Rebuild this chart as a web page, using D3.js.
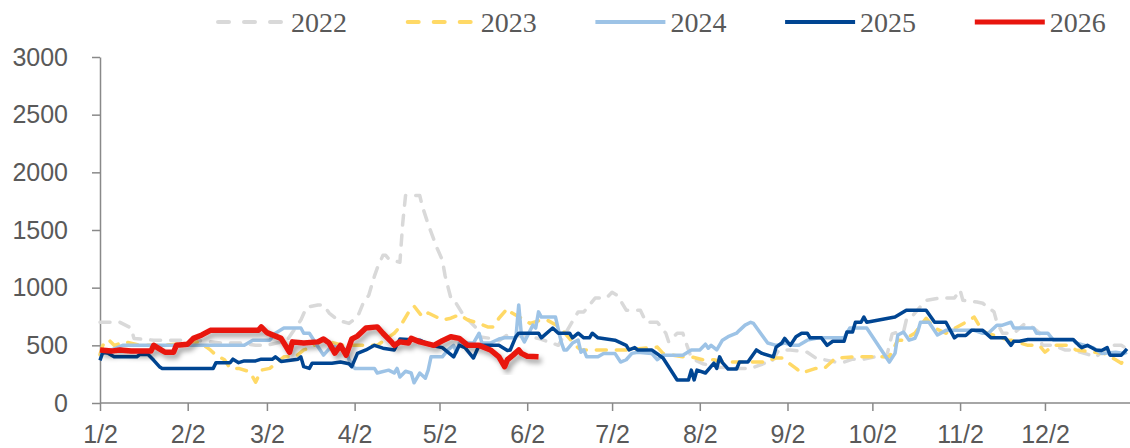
<!DOCTYPE html>
<html>
<head>
<meta charset="utf-8">
<script src="https://cdn.jsdelivr.net/npm/d3@7"></script>
<style>
	body { margin: 0; background: #fff; }
	svg { display: block; }
</style>
</head>
<body>
<div id="chart"></div>
<script>
// data (daily price, step-like)
var seriesNames = ["2022", "2023", "2024", "2025", "2026"];

var s2022 = [["1/2",700],["1/9",700],["1/13",650],["1/14",560],["1/21",545],["2/5",545],["2/14",520],["2/21",520],["2/26",500],["3/2",500],["3/9",540],["3/14",720],["3/16",830],["3/20",850],["3/22",850],["3/24",780],["3/27",720],["3/31",690],["4/3",745],["4/5",865],["4/7",935],["4/9",1100],["4/10",1170],["4/12",1280],["4/13",1280],["4/14",1250],["4/18",1220],["4/19",1560],["4/20",1800],["4/25",1800],["4/26",1700],["4/28",1550],["5/1",1350],["5/3",1240],["5/4",1100],["5/6",910],["5/7",900],["5/10",780],["5/13",700],["5/15",650],["5/16",575],["5/20",560],["5/23",540],["5/26",590],["5/28",590],["6/6",560],["6/13",500],["6/20",790],["6/22",790],["6/26",910],["6/30",910],["7/2",960],["7/4",930],["7/7",805],["7/12",805],["7/14",700],["7/18",700],["7/21",605],["7/22",530],["7/25",605],["7/27",605],["7/30",390],["8/3",340],["8/9",310],["8/16",300],["8/20",300],["8/25",345],["8/27",345],["8/30",460],["9/3",460],["9/9",440],["9/12",390],["9/19",355],["9/22",355],["9/25",380],["9/29",380],["10/3",400],["10/7",400],["10/9",600],["10/11",615],["10/13",615],["10/14",720],["10/15",720],["10/20",865],["10/21",890],["10/26",910],["10/31",910],["11/2",980],["11/3",890],["11/8",875],["11/10",865],["11/14",790],["11/15",700],["11/17",605],["11/21",605],["11/25",690],["11/28",650],["11/30",610],["12/1",500],["12/5",500],["12/9",460],["12/12",460],["12/18",415],["12/20",400],["12/25",500],["12/29",500],["12/31",470]];

var s2023 = [["1/2",420],["1/3",500],["1/5",550],["1/7",500],["1/11",530],["1/16",500],["1/25",500],["2/6",530],["2/10",460],["2/12",415],["2/15",375],["2/17",300],["2/20",300],["2/24",270],["2/26",180],["2/28",285],["3/3",300],["3/8",400],["3/12",400],["3/15",460],["3/17",475],["3/22",545],["3/29",500],["4/10",500],["4/16",605],["4/18",660],["4/22",825],["4/23",840],["4/26",745],["4/28",780],["5/3",720],["5/6",735],["5/9",765],["5/12",720],["5/16",690],["5/19",660],["5/21",660],["5/23",735],["5/26",820],["5/27",790],["6/1",720],["6/3",690],["6/7",720],["6/9",720],["6/14",650],["6/15",615],["6/19",500],["6/21",460],["6/29",460],["7/7",460],["7/18",485],["7/20",430],["7/27",400],["7/30",400],["8/3",375],["8/7",375],["8/10",355],["8/24",355],["8/29",390],["8/31",390],["9/5",300],["9/7",260],["9/12",300],["9/15",300],["9/19",390],["9/20",390],["9/25",400],["10/8",400],["10/11",545],["10/13",545],["10/17",605],["10/21",735],["10/24",650],["10/28",605],["11/4",700],["11/7",745],["11/10",620],["11/19",545],["11/20",545],["11/26",500],["11/30",500],["12/2",440],["12/5",500],["12/10",500],["12/13",460],["12/23",430],["12/27",375],["12/29",345],["12/31",420]];

var s2024 = [["1/2",420],["1/5",450],["1/10",500],["2/22",500],["2/25",545],["3/3",545],["3/5",605],["3/8",650],["3/14",650],["3/15",605],["3/17",605],["3/20",490],["3/22",415],["3/24",470],["3/26",490],["3/30",460],["3/31",375],["4/2",300],["4/9",300],["4/10",260],["4/14",285],["4/16",260],["4/17",300],["4/18",225],["4/20",275],["4/22",260],["4/23",175],["4/25",260],["4/27",215],["4/28",285],["4/29",400],["5/3",400],["5/5",460],["5/7",500],["5/8",440],["5/9",520],["5/14",520],["5/16",605],["5/17",520],["5/20",520],["5/23",555],["5/25",565],["5/29",565],["5/30",850],["5/31",575],["6/1",530],["6/4",675],["6/5",650],["6/6",790],["6/7",745],["6/12",745],["6/14",530],["6/15",460],["6/16",460],["6/18",520],["6/20",545],["6/21",440],["6/22",460],["6/23",400],["6/27",400],["6/29",430],["7/3",430],["7/5",355],["7/7",375],["7/9",430],["7/11",440],["7/16",430],["7/18",375],["7/20",415],["7/27",415],["7/30",460],["8/2",460],["8/4",510],["8/5",475],["8/6",500],["8/8",460],["8/10",545],["8/12",575],["8/15",605],["8/16",630],["8/18",675],["8/20",700],["8/21",690],["8/26",520],["8/29",500],["9/1",520],["9/4",500],["9/6",500],["9/9",545],["9/13",565],["9/22",565],["9/24",650],["9/30",650],["10/8",355],["10/10",430],["10/11",590],["10/13",615],["10/15",545],["10/17",560],["10/18",615],["10/19",700],["10/22",700],["10/25",590],["10/28",630],["11/7",630],["11/10",605],["11/12",605],["11/15",675],["11/17",675],["11/20",700],["11/21",650],["11/28",650],["11/29",605],["12/3",605],["12/5",545],["12/12",545],["12/13",520],["12/19",480],["12/22",430],["12/27",440],["12/30",430],["12/31",440]];

var s2025 = [["1/2",370],["1/3",440],["1/5",430],["1/7",400],["1/15",400],["1/16",420],["1/19",420],["1/21",370],["1/23",315],["1/24",300],["2/11",300],["2/12",350],["2/17",350],["2/18",380],["2/20",350],["2/22",365],["2/26",365],["2/28",380],["3/4",380],["3/5",400],["3/7",360],["3/13",380],["3/14",400],["3/15",315],["3/17",300],["3/18",345],["3/25",345],["3/28",355],["3/31",340],["4/1",315],["4/3",430],["4/6",460],["4/9",500],["4/12",475],["4/16",460],["4/18",555],["4/25",545],["4/29",500],["5/3",480],["5/7",400],["5/9",500],["5/11",480],["5/14",390],["5/16",500],["5/23",500],["5/26",455],["5/27",460],["5/29",575],["5/30",605],["6/6",605],["6/7",565],["6/11",650],["6/13",605],["6/17",605],["6/18",565],["6/20",605],["6/22",565],["6/24",565],["6/25",605],["6/27",565],["7/3",545],["7/7",500],["7/8",460],["7/10",480],["7/11",460],["7/16",460],["7/20",390],["7/22",315],["7/25",200],["7/29",200],["7/30",285],["7/31",200],["8/1",285],["8/4",260],["8/7",345],["8/8",300],["8/9",400],["8/10",350],["8/12",295],["8/15",295],["8/16",355],["8/19",355],["8/22",460],["8/24",430],["8/28",400],["8/29",485],["8/31",520],["9/1",560],["9/3",500],["9/5",575],["9/7",605],["9/9",605],["9/10",565],["9/14",565],["9/16",500],["9/18",535],["9/22",535],["9/23",615],["9/25",615],["9/26",700],["9/28",700],["9/29",745],["9/30",700],["10/10",745],["10/14",805],["10/21",805],["10/24",700],["10/28",700],["10/31",565],["11/1",585],["11/4",585],["11/6",630],["11/10",630],["11/13",565],["11/18",565],["11/20",500],["11/21",535],["11/23",535],["11/26",550],["12/12",550],["12/14",500],["12/15",480],["12/17",500],["12/20",460],["12/22",455],["12/24",480],["12/25",415],["12/29",415],["12/31",470]];

var s2026 = [["1/2",460],["1/6",450],["1/9",460],["1/13",450],["1/20",450],["1/21",500],["1/23",470],["1/25",440],["1/28",440],["1/29",500],["2/2",510],["2/4",560],["2/7",590],["2/10",630],["2/27",630],["2/28",660],["3/2",610],["3/7",560],["3/10",440],["3/11",530],["3/15",520],["3/20",530],["3/22",555],["3/24",520],["3/26",433],["3/28",500],["3/30",415],["4/1",555],["4/3",580],["4/6",650],["4/10",660],["4/12",605],["4/15",530],["4/16",500],["4/18",530],["4/21",520],["4/22",560],["4/25",530],["4/30",500],["5/3",540],["5/6",575],["5/9",560],["5/12",500],["5/16",500],["5/20",460],["5/23",400],["5/25",315],["5/26",375],["5/28",415],["5/30",460],["5/31",430],["6/2",405],["6/6",400]];

var seriesData = [s2022, s2023, s2024, s2025, s2026];
var seriesColors = ["#d9d9d9", "#ffd966", "#9dc3e6", "#004592", "#e8150e"];

var xTickLabels = ["1/2","2/2","3/2","4/2","5/2","6/2","7/2","8/2","9/2","10/2","11/2","12/2"];
var yTickValues = [0, 500, 1000, 1500, 2000, 2500, 3000];

var parseDay = function(s) {
	return d3.timeParse("%Y/%m/%d")("2021/" + s);
};

var width = 1130, height = 448;

var xScale = d3.scaleTime()
				.domain([parseDay("1/2"), parseDay("12/31")])
				.range([100, 1127]);

var yScale = d3.scaleLinear()
				.domain([0, 3000])
				.range([403, 57]);

var svg = d3.select("#chart").append("svg")
			.attr("width", width)
			.attr("height", height);

// shadow under the 2026 line
var shadow = svg.append("defs").append("filter")
				.attr("id", "shadow")
				.attr("x", "-5%").attr("y", "-20%")
				.attr("width", "110%").attr("height", "140%");
shadow.append("feDropShadow")
		.attr("dx", 3)
		.attr("dy", 4)
		.attr("stdDeviation", 2.5)
		.attr("flood-color", "#000")
		.attr("flood-opacity", 0.35);

// axes
var yAxis = d3.axisLeft(yScale)
				.tickValues(yTickValues)
				.tickFormat(d3.format("d"))
				.tickSize(8)
				.tickSizeOuter(0)
				.tickPadding(24);

var xAxis = d3.axisBottom(xScale)
				.tickValues(xTickLabels.map(parseDay))
				.tickFormat(function(d, i) { return xTickLabels[i]; })
				.tickSize(8)
				.tickSizeOuter(0)
				.tickPadding(14);

var gy = svg.append("g")
			.attr("transform", "translate(100,0)")
			.call(yAxis);

var gx = svg.append("g")
			.attr("transform", "translate(0,403)")
			.call(xAxis);

gx.select(".domain").attr("d", "M100,0H1130");

[gx, gy].forEach(function(g) {
	g.selectAll(".domain, .tick line")
		.attr("stroke", "#898989")
		.attr("stroke-width", 1.5);
	g.selectAll(".tick text")
		.attr("fill", "#595959")
		.style("font-family", "'Liberation Sans', Arial, sans-serif")
		.style("font-size", "25px");
});

// lines
var line = d3.line()
			.x(function(d) { return xScale(parseDay(d[0])); })
			.y(function(d) { return yScale(d[1]); });

var dashed = [true, true, false, false, false];
var widths = [3.5, 3.5, 3.5, 3.5, 5.5];

svg.append("g")
	.selectAll("path")
	.data(seriesData)
	.enter().append("path")
		.attr("d", line)
		.attr("fill", "none")
		.attr("stroke", function(d, i) { return seriesColors[i]; })
		.attr("stroke-width", function(d, i) { return widths[i]; })
		.attr("stroke-dasharray", function(d, i) { return dashed[i] ? "10,10" : null; })
		.attr("stroke-linecap", function(d, i) { return dashed[i] ? "round" : "butt"; })
		.attr("stroke-linejoin", "round")
		.attr("filter", function(d, i) { return i === 4 ? "url(#shadow)" : null; });

// legend
var legend = svg.append("g")
				.selectAll("g")
				.data(seriesNames)
				.enter().append("g")
					.attr("transform", function(d, i) {
						return "translate(" + (216 + i * 189.7) + ",22)";
					});

legend.append("line")
		.attr("x1", function(d, i) { return dashed[i] ? 2 : 0; })
		.attr("x2", 70)
		.attr("stroke", function(d, i) { return seriesColors[i]; })
		.attr("stroke-width", function(d, i) { return i === 4 ? 5 : 4; })
		.attr("stroke-dasharray", function(d, i) { return dashed[i] ? "11,15" : null; })
		.attr("stroke-linecap", function(d, i) { return dashed[i] ? "round" : "butt"; });

legend.append("text")
		.attr("x", 75)
		.attr("y", 10)
		.attr("fill", "#595959")
		.style("font-family", "'Liberation Serif', 'Times New Roman', serif")
		.style("font-size", "28px")
		.text(function(d) { return d; });
</script>
</body>
</html>
